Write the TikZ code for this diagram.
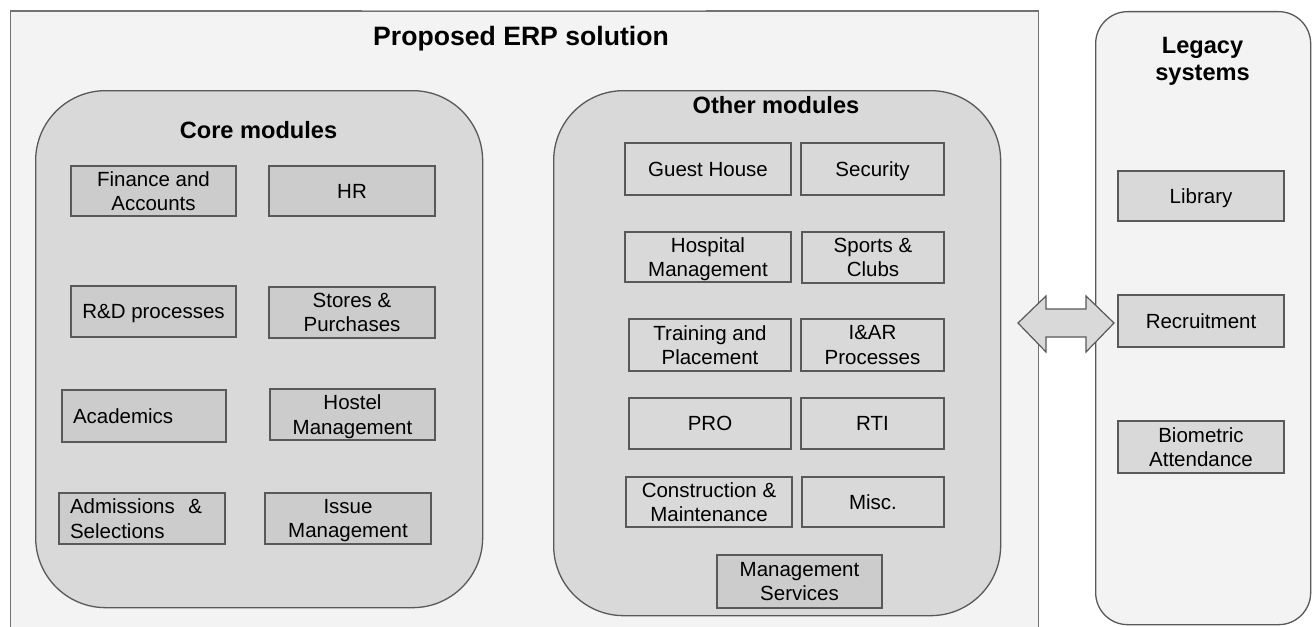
\documentclass[tikz,border=0pt]{standalone}
\usepackage{fontspec}
\setmainfont{Liberation Sans}
\begin{document}
\definecolor{pagegray}{HTML}{F3F3F3}
\definecolor{groupgray}{HTML}{D9D9D9}
\definecolor{boxgray}{HTML}{CCCCCC}
\definecolor{edgegray}{HTML}{595959}
\begin{tikzpicture}[x=1pt,y=-1pt,
  outerframe/.style={draw=edgegray!85!white, line width=1.3pt, fill=pagegray, rectangle, inner sep=0pt},
  group/.style={draw=edgegray, line width=1.3pt, fill=groupgray, rectangle, rounded corners=70pt, inner sep=0pt},
  legacygroup/.style={draw=edgegray, line width=1.3pt, fill=pagegray, rectangle, rounded corners=32pt, inner sep=0pt},
  heading/.style={font=\fontsize{23.6}{28}\selectfont\bfseries, anchor=base, align=center, inner sep=0pt},
  bigheading/.style={font=\fontsize{26.6}{30}\selectfont\bfseries, anchor=base, inner sep=0pt},
  modbase/.style={draw=edgegray, line width=1.2pt, fill=boxgray, rectangle, inner sep=0pt,
    font=\fontsize{20.5}{24.5}\selectfont},
  module/.style={modbase, align=center, text depth=0pt},
  lightmodule/.style={module, fill=groupgray},
  leftmodule/.style={modbase, align=left, text width=#1, inner xsep=11pt},
  blockarrow/.style={draw=edgegray, line width=1.2pt, fill=groupgray, line join=miter}
]
\useasboundingbox (0,0) rectangle (1316,626);
\clip (0,0) rectangle (1316,626);

% frame of the proposed solution, running off the bottom edge
\node[outerframe, minimum width=1028.5pt, minimum height=640pt, anchor=north west] (erp) at (9.5,10.5) {};
\draw[line width=1.3pt, draw=gray!60] (362,10.5) -- (706,10.5);
\node[bigheading] (erptitle) at (521,46) {Proposed ERP solution};

% legacy systems column
\node[legacygroup, minimum width=215pt, minimum height=613pt, anchor=north west] (legacy) at (1095,11) {};
\node[heading] (legacytitle) at (1202.5,81) {Legacy\\systems};

% core modules group
\node[group, minimum width=447pt, minimum height=517pt, anchor=north west] (core) at (35,90) {};
\node[heading] (coretitle) at (258.5,138) {Core modules};

\node[module, minimum width=165pt, minimum height=50pt] (fin) at (153.5,191) {Finance and\\Accounts};
\node[module, minimum width=166pt, minimum height=50pt] (hr) at (352,191) {HR};
\node[module, minimum width=165pt, minimum height=51pt] (rnd) at (153.5,311.5) {R\&D processes};
\node[module, minimum width=166pt, minimum height=51pt] (stores) at (352,312.5) {Stores \&\\Purchases};
\node[leftmodule=142pt, minimum height=52pt] (acad) at (144,416) {Academics};
\node[module, minimum width=165pt, minimum height=51pt] (hostel) at (352.5,414.5) {Hostel\\Management};
\node[leftmodule=144pt, minimum height=51pt] (adm) at (142,518.5) {Admissions~~\&\\Selections};
\node[module, minimum width=166pt, minimum height=51pt] (issue) at (348,518.5) {Issue\\Management};

% other modules group
\node[group, minimum width=447pt, minimum height=525pt, anchor=north west] (other) at (553,90) {};
\node[heading] (othertitle) at (776,113) {Other modules};

\node[lightmodule, minimum width=166pt, minimum height=52pt] (guest) at (708,169) {Guest House};
\node[lightmodule, minimum width=143pt, minimum height=52pt] (security) at (872.5,169) {Security};
\node[lightmodule, minimum width=166pt, minimum height=50pt] (hosp) at (708,257) {Hospital\\Management};
\node[lightmodule, minimum width=142pt, minimum height=51pt] (sports) at (873,257.5) {Sports \&\\Clubs};
\node[lightmodule, minimum width=162pt, minimum height=52pt] (training) at (710,345) {Training and\\Placement};
\node[lightmodule, minimum width=143pt, minimum height=52pt] (iar) at (872.5,345) {I\&AR\\Processes};
\node[lightmodule, minimum width=162pt, minimum height=51pt] (pro) at (710,423.5) {PRO};
\node[lightmodule, minimum width=143pt, minimum height=51pt] (rti) at (872.5,423.5) {RTI};
\node[lightmodule, minimum width=166pt, minimum height=50pt] (constr) at (709,502) {Construction \&\\Maintenance};
\node[lightmodule, minimum width=142pt, minimum height=50pt] (misc) at (873,502) {Misc.};
\node[module, minimum width=165pt, minimum height=53pt] (mgmt) at (799.5,581.5) {Management\\Services};

% legacy modules
\node[lightmodule, minimum width=166pt, minimum height=50pt] (lib) at (1201,196) {Library};
\node[lightmodule, minimum width=166pt, minimum height=52pt] (recr) at (1201,321) {Recruitment};
\node[lightmodule, minimum width=166pt, minimum height=52pt] (bio) at (1201,447) {Biometric\\Attendance};

% two-way link between the solution and the legacy systems
\draw[blockarrow] (1018,323) -- (1046,296) -- (1046,309) -- (1086,309) -- (1086,296)
  -- (1114,323) -- (1086,352) -- (1086,337) -- (1046,337) -- (1046,352) -- cycle;
\end{tikzpicture}
\end{document}
